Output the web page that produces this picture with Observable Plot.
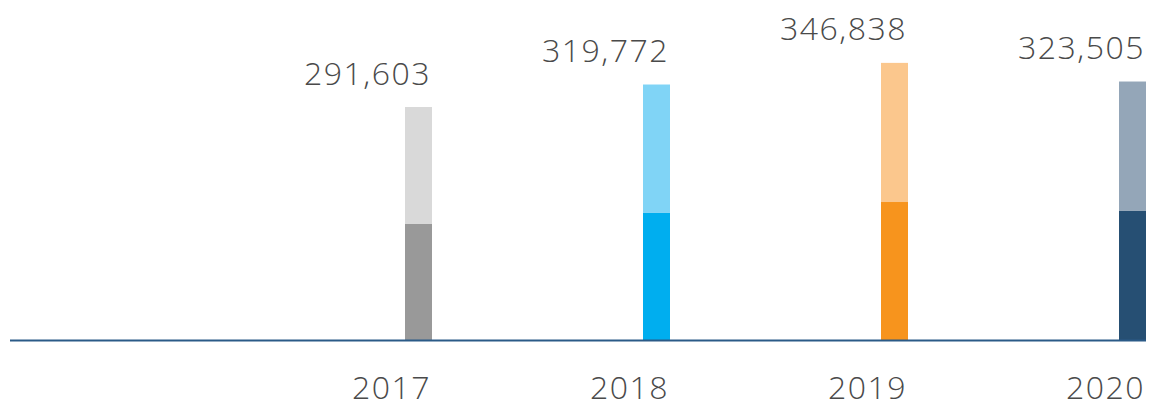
<!DOCTYPE html>
<html>
<head>
<meta charset="utf-8">
<script src="https://cdn.jsdelivr.net/npm/d3@7"></script>
<script src="https://cdn.jsdelivr.net/npm/@observablehq/plot@0.6"></script>
<style>
  html, body { margin: 0; padding: 0; background: #fff; }
  #chart svg { display: block; }
  #chart svg text { letter-spacing: 1.5px; }
</style>
</head>
<body>
<div id="chart"></div>
<script>
const years = ["2017", "2018", "2019", "2020"];
const totals = [291603, 319772, 346838, 323505];
const lowerValues = [145600, 159000, 172700, 161500];
const lowerColors = ["#999999", "#00aeef", "#f7941d", "#264f73"];
const upperColors = ["#d9d9d9", "#80d4f6", "#fbc78d", "#94a6b8"];

const rows = [];
years.forEach((y, i) => {
  rows.push({year: y, key: y + "-lower", value: lowerValues[i]});
  rows.push({year: y, key: y + "-upper", value: totals[i] - lowerValues[i]});
});
const totalRows = years.map((y, i) => ({year: y, total: totals[i]}));
const colorDomain = years.flatMap(y => [y + "-lower", y + "-upper"]);
const colorRange = years.flatMap((y, i) => [lowerColors[i], upperColors[i]]);

const fontFamily = "'Open Sans', sans-serif";

const chart = Plot.plot({
  width: 1151,
  height: 409,
  marginLeft: 10,
  marginRight: 5,
  marginTop: 0,
  marginBottom: 0,
  style: {fontFamily, background: "#fff"},
  x: {type: "band", domain: years, range: [405, 1146], paddingInner: 0.8866, paddingOuter: 0, axis: null},
  y: {domain: [0, 350000], range: [340, 60.35], axis: null},
  color: {domain: colorDomain, range: colorRange},
  marks: [
    Plot.barY(rows, {x: "year", y: "value", fill: "key"}),
    Plot.ruleY([0], {stroke: "#2b5a87", strokeWidth: 2}),
    Plot.text(totalRows, {
      x: "year", y: "total", text: d => d3.format(",")(d.total),
      textAnchor: "end", lineAnchor: "bottom", dx: 12, dy: -23,
      fontSize: 32, fontWeight: 300, fill: "#4a4a4a"
    }),
    Plot.text(totalRows, {
      x: "year", y: () => 0, text: "year",
      textAnchor: "end", lineAnchor: "bottom", dx: 12, dy: 58,
      fontSize: 32, fontWeight: 300, fill: "#4a4a4a"
    })
  ]
});
document.getElementById("chart").appendChild(chart);
</script>
</body>
</html>
